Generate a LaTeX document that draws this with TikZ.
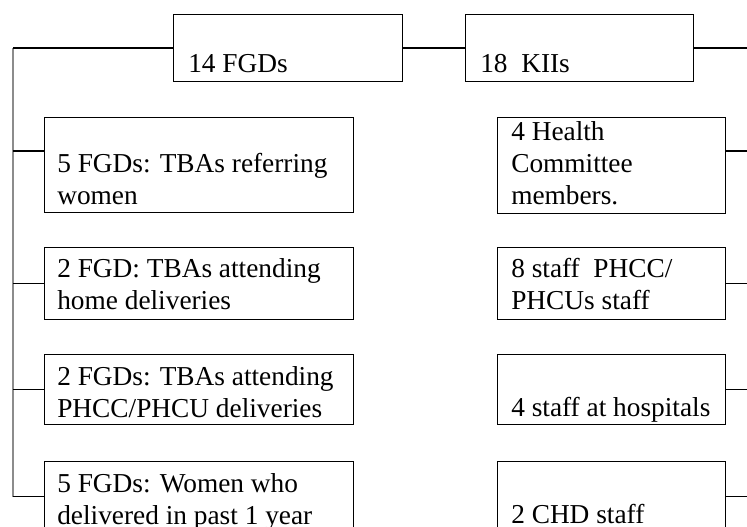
\documentclass[tikz,border=0pt]{standalone}
\usepackage{fontspec}
\setmainfont{Liberation Serif}
\usetikzlibrary{positioning,calc}
\tikzset{
  box/.style 2 args={draw,line width=0.8pt,anchor=north west,inner sep=0pt,
    minimum width=#1*0.75pt,minimum height=#2*0.75pt},
  txt/.style={anchor=base west,align=left,inner sep=0pt,
    font=\fontsize{20.5}{24}\selectfont},
  link/.style={line width=0.8pt},
  spine/.style={line width=1pt,black!45},
}
\begin{document}
\begin{tikzpicture}[x=0.75pt,y=-0.75pt]
			\useasboundingbox (0,0) rectangle (747,527);
			\node[box={229}{67}] (fgd) at (173,14) {};
			\node[box={228}{67}] (kii) at (465,14) {};
			\node[box={309}{95}] (fgda) at (44,117) {};
			\node[box={309}{72}] (fgdb) at (44,247) {};
			\node[box={309}{70}] (fgdc) at (44,354) {};
			\node[box={309}{70}] (fgdd) at (44,461) {};
			\node[box={228}{96}] (kiia) at (497,117) {};
			\node[box={228}{72}] (kiib) at (497,247) {};
			\node[box={228}{70}] (kiic) at (497,354) {};
			\node[box={228}{70}] (kiid) at (497,461) {};
			\node[txt] (tfgd) at (188,73) {14 FGDs};
			\node[txt] (tkii) at (480,73) {18\ \ KIIs};
			\node[txt] (tfgda) at (57,205) {5 FGDs: TBAs referring\\women};
			\node[txt] (tfgdb) at (57,310) {2 FGD: TBAs attending\\home deliveries};
			\node[txt] (tfgdc) at (57,418) {2 FGDs: TBAs attending\\PHCC/PHCU deliveries};
			\node[txt] (tfgdd) at (57,524) {5 FGDs: Women who\\delivered in past 1 year};
			\node[txt] (tkiia) at (511,205) {4 Health\\Committee\\members.};
			\node[txt] (tkiib) at (511,310) {8 staff\ \ PHCC/\\PHCUs staff};
			\node[txt] (tkiic) at (511,417) {4 staff at hospitals};
			\node[txt] (tkiid) at (511,523) {2 CHD staff};
			\coordinate (sp) at (13,0);
			\coordinate (edge) at (747,0);
			\coordinate (rowa) at ($(fgda.north west)+(0,34)$);
			\draw[spine] (fgd.west -| sp) -- (fgdd.west -| sp);
			\draw[link] (fgd.west) -- (fgd.west -| sp);
			\draw[link] (rowa) -- (rowa -| sp);
			\draw[link] (fgdb.west) -- (fgdb.west -| sp);
			\draw[link] (fgdc.west) -- (fgdc.west -| sp);
			\draw[link] (fgdd.west) -- (fgdd.west -| sp);
			\draw[link] (fgd.east) -- (kii.west);
			\draw[link] (kii.east) -- (kii.east -| edge);
			\draw[link] (rowa -| kiia.east) -- (rowa -| edge);
			\draw[link] (kiib.east) -- (kiib.east -| edge);
			\draw[link] (kiic.east) -- (kiic.east -| edge);
			\draw[link] (kiid.east) -- (kiid.east -| edge);
		\end{tikzpicture}
\end{document}
